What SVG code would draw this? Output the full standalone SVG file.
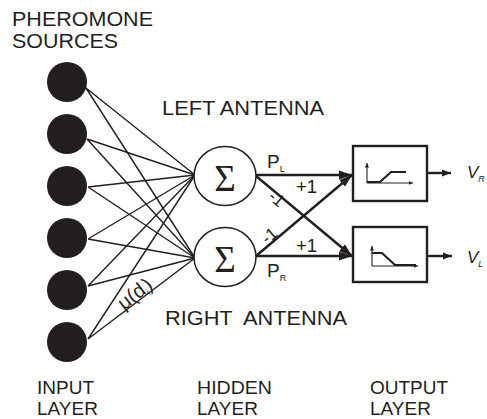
<svg xmlns="http://www.w3.org/2000/svg" width="487" height="419" viewBox="0 0 487 419">
<defs>
<style>
.t{font-family:"Liberation Sans",Arial,sans-serif;fill:#231f20}
.in{fill:#231f20}
.w{stroke:#231f20;stroke-width:1.4;fill:none}
.sig{fill:#fff;stroke:#231f20;stroke-width:1.5}
.c{stroke:#231f20;stroke-width:2.4;fill:none}
.box{fill:#fff;stroke:#231f20;stroke-width:2.4}
.ax{stroke:#231f20;stroke-width:1.1;fill:none}
.cv{stroke:#231f20;stroke-width:2.2;fill:none}
</style>
<marker id="ah" markerUnits="userSpaceOnUse" markerWidth="14" markerHeight="10" refX="13" refY="5" orient="auto"><path d="M0,0.5 L13,5 L0,9.5 z" fill="#231f20"/></marker>
<marker id="ao" markerUnits="userSpaceOnUse" markerWidth="10" markerHeight="8" refX="9" refY="4" orient="auto"><path d="M0,0.5 L9,4 L0,7.5 z" fill="#231f20"/></marker>
<marker id="as" markerUnits="userSpaceOnUse" markerWidth="5" markerHeight="4" refX="4.5" refY="2" orient="auto"><path d="M0,0 L4.5,2 L0,4 z" fill="#231f20"/></marker>
</defs>
<rect width="487" height="419" fill="#fff"/>

<g id="connectors">
<path class="w" d="M86,88 L195,175 M86,88 L195,258"/>
<path class="w" d="M87,139 L195,175 M87,139 L195,258"/>
<path class="w" d="M88,187 L195,175 M88,187 L195,258"/>
<path class="w" d="M88,239 L195,175 M88,239 L195,258"/>
<path class="w" d="M88,286 L195,175 M88,286 L195,258"/>
<path class="w" d="M88,339 L195,175 M88,339 L195,258"/>
<path class="c" d="M256,175 L352,175" marker-end="url(#ah)"/>
<path class="c" d="M256,256 L352,256" marker-end="url(#ah)"/>
<path class="c" d="M256,176 L352,256" marker-end="url(#ah)"/>
<path class="c" d="M256,256 L352,175" marker-end="url(#ah)"/>
<path class="c" d="M427,173 L451,173" stroke-width="2" marker-end="url(#ao)"/>
<path class="c" d="M427,256 L452,256" stroke-width="2" marker-end="url(#ao)"/>
</g>

<g id="input-nodes">
<circle class="in" cx="67" cy="82" r="20"/>
<circle class="in" cx="67" cy="134" r="20"/>
<circle class="in" cx="67" cy="186" r="20"/>
<circle class="in" cx="67" cy="238" r="20"/>
<circle class="in" cx="67" cy="290" r="20"/>
<circle class="in" cx="67" cy="342" r="20"/>
</g>

<g id="sum-left">
<ellipse class="sig" cx="225" cy="176" rx="31" ry="29.5"/>
<text x="225" y="191" text-anchor="middle" style="font-family:'Liberation Serif','DejaVu Serif',serif;font-size:37px;fill:#231f20">Σ</text>
</g>
<g id="sum-right">
<ellipse class="sig" cx="225" cy="257" rx="31" ry="29.5"/>
<text x="225" y="272" text-anchor="middle" style="font-family:'Liberation Serif','DejaVu Serif',serif;font-size:37px;fill:#231f20">Σ</text>
</g>

<g id="out-right">
<rect class="box" x="353" y="146" width="74" height="55"/>
<path class="ax" d="M367,183 L367,163" marker-end="url(#as)"/>
<path class="ax" d="M367,183 L413,183" marker-end="url(#as)"/>
<path class="cv" d="M367,182 L380,182 L391,172 L406,172"/>
</g>
<g id="out-left">
<rect class="box" x="353" y="227" width="74" height="55"/>
<path class="ax" d="M372,266 L372,246" marker-end="url(#as)"/>
<path class="ax" d="M372,266 L418,266" marker-end="url(#as)"/>
<path class="cv" d="M372,253 L382,253 L395,265 L416,265"/>
</g>

<g id="labels">
<text class="t" x="12" y="26" font-size="20" textLength="141" lengthAdjust="spacingAndGlyphs">PHEROMONE</text>
<text class="t" x="12" y="48" font-size="20" textLength="106" lengthAdjust="spacingAndGlyphs">SOURCES</text>
<text class="t" x="162" y="115" font-size="19.5" textLength="162" lengthAdjust="spacingAndGlyphs">LEFT ANTENNA</text>
<text class="t" x="165" y="325" font-size="19.5" textLength="182" lengthAdjust="spacingAndGlyphs" xml:space="preserve">RIGHT  ANTENNA</text>
<text class="t" x="37" y="394" font-size="19">INPUT</text>
<text class="t" x="37" y="415" font-size="19">LAYER</text>
<text class="t" x="197" y="394" font-size="19" textLength="75" lengthAdjust="spacingAndGlyphs">HIDDEN</text>
<text class="t" x="197" y="415" font-size="19">LAYER</text>
<text class="t" x="370" y="394" font-size="19">OUTPUT</text>
<text class="t" x="370" y="415" font-size="19">LAYER</text>
<text class="t" x="267" y="168" font-size="19">P<tspan font-size="9" dy="4">L</tspan></text>
<text class="t" x="267" y="277" font-size="19">P<tspan font-size="9" dy="4">R</tspan></text>
<text class="t" x="296" y="193" font-size="18.5">+1</text>
<text class="t" x="296" y="252" font-size="18.5">+1</text>
<text class="t" transform="translate(273,203) rotate(40)" text-anchor="middle" font-size="17">-1</text>
<text class="t" transform="translate(273,240) rotate(-40)" text-anchor="middle" font-size="17">-1</text>
<text class="t" transform="translate(139,299) rotate(-38)" text-anchor="middle" font-size="20">μ(d<tspan font-size="9" dy="3">i</tspan><tspan dy="-3">)</tspan></text>
<text class="t" x="467" y="178" font-size="17" font-style="italic">V<tspan font-size="9" dy="4">R</tspan></text>
<text class="t" x="467" y="263" font-size="17" font-style="italic">V<tspan font-size="9" dy="4">L</tspan></text>
</g>
</svg>
